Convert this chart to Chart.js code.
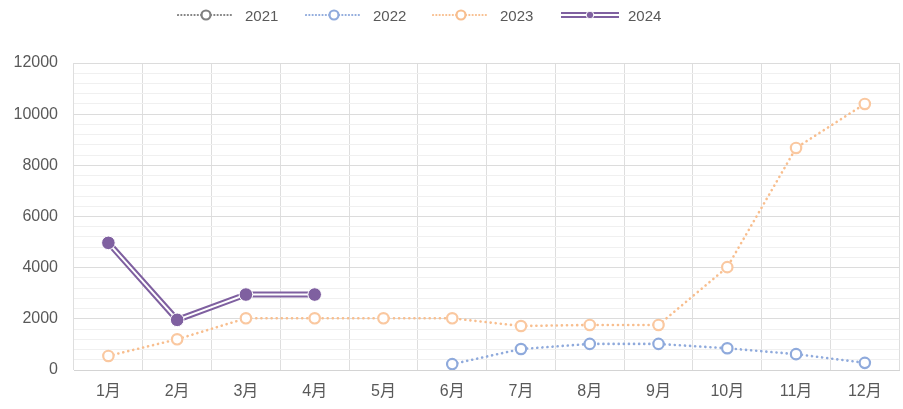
<!DOCTYPE html>
<html>
<head>
<meta charset="utf-8">
<script src="https://cdn.jsdelivr.net/npm/chart.js@4/dist/chart.umd.min.js"></script>
<style>
  html, body { margin: 0; padding: 0; background: #fff; overflow: hidden; }
  #wrap { position: relative; width: 903px; height: 409px; overflow: hidden; }
  #chart { display: block; }
  #legend { position: absolute; top: 0; left: 0; width: 903px; height: 30px; font: 15px 'Liberation Sans', 'Noto Sans CJK SC', sans-serif; color: #595959; }
  .item { position: absolute; top: 5px; height: 20px; display: flex; align-items: center; }
  .item svg { margin-right: 8px; }
</style>
</head>
<body>
<div id="wrap">
  <!-- 4px wider than the window: chart.js keeps ~8px right of the plot for the last marker -->
  <canvas id="chart" width="907" height="409"></canvas>
  <div id="legend"></div>
</div>
<script>
// categories and series
const months = ['1月', '2月', '3月', '4月', '5月', '6月', '7月', '8月', '9月', '10月', '11月', '12月'];
const years = ['2021', '2022', '2023', '2024'];
const data2021 = [null, null, null, null, null, null, null, null, null, null, null, null];
const data2022 = [null, null, null, null, null, 230, 820, 1020, 1020, 850, 620, 280];
const data2023 = [550, 1200, 2020, 2020, 2020, 2020, 1720, 1760, 1760, 4020, 8680, 10400];
const data2024 = [4970, 1960, 2950, 2950, null, null, null, null, null, null, null, null];

const fontFamily = "'Liberation Sans', 'Noto Sans CJK SC', sans-serif";
const textColor = '#595959';
const purple = '#7F60A0';

// -- legend (html, drawn like the excel one) --
const legendEl = document.getElementById('legend');
const legendLeft = [177, 305, 432, 560];
const legendGlyphs = [
    '<line x1="1" y1="8" x2="57" y2="8" stroke="#7F7F7F" stroke-width="2.2" stroke-dasharray="0.1 3.2" stroke-linecap="round"/><circle cx="29" cy="8" r="4.5" fill="#fff" stroke="#7F7F7F" stroke-width="2.2"/>',
    '<line x1="1" y1="8" x2="57" y2="8" stroke="#8FAADC" stroke-width="2.2" stroke-dasharray="0.1 3.2" stroke-linecap="round"/><circle cx="29" cy="8" r="4.5" fill="#fff" stroke="#8FAADC" stroke-width="2.2"/>',
    '<line x1="1" y1="8" x2="57" y2="8" stroke="#F8BE8E" stroke-width="2.2" stroke-dasharray="0.1 3.2" stroke-linecap="round"/><circle cx="29" cy="8" r="4.5" fill="#fff" stroke="#F8BE8E" stroke-width="2.2"/>',
    '<line x1="1" y1="8" x2="59" y2="8" stroke="' + purple + '" stroke-width="6"/><line x1="1" y1="8" x2="59" y2="8" stroke="#fff" stroke-width="1.8"/><circle cx="30" cy="8" r="3.8" fill="' + purple + '" stroke="#fff" stroke-width="1"/>'
];
for (let i = 0; i < years.length; i++) {
    let div = document.createElement('div');
    div.className = 'item';
    div.style.left = legendLeft[i] + 'px';
    div.innerHTML = '<svg width="60" height="16">' + legendGlyphs[i] + '</svg><span>' + years[i] + '</span>';
    legendEl.appendChild(div);
}

// -- chart --
const ctx = document.getElementById('chart');

new Chart(ctx, {
    type: 'line',
    data: {
        labels: months,
        datasets: [
            {
                // 2024 markers on top
                label: '2024',
                data: data2024,
                showLine: false,
                pointRadius: 6.8,
                pointBackgroundColor: purple,
                pointBorderColor: '#fff',
                pointBorderWidth: 1
            },
            {
                // white core of the double line
                label: '2024 core',
                data: data2024,
                borderColor: '#fff',
                borderWidth: 2,
                pointRadius: 0,
                tension: 0
            },
            {
                label: '2024 line',
                data: data2024,
                borderColor: purple,
                borderWidth: 6,
                pointRadius: 0,
                tension: 0
            },
            {
                label: '2023',
                data: data2023,
                borderColor: '#F8BE8E',
                borderWidth: 2.6,
                borderDash: [0.1, 5],
                borderCapStyle: 'round',
                pointRadius: 5.2,
                pointBackgroundColor: '#fff',
                pointBorderColor: '#FAC8A0',
                pointBorderWidth: 2.2,
                tension: 0
            },
            {
                label: '2022',
                data: data2022,
                borderColor: '#8FAADC',
                borderWidth: 2.6,
                borderDash: [0.1, 5],
                borderCapStyle: 'round',
                pointRadius: 5.2,
                pointBackgroundColor: '#fff',
                pointBorderColor: '#8FAADC',
                pointBorderWidth: 2.2,
                tension: 0
            },
            {
                label: '2021',
                data: data2021,
                borderColor: '#7F7F7F',
                borderWidth: 2,
                pointRadius: 5,
                pointBackgroundColor: '#fff',
                pointBorderColor: '#7F7F7F'
            }
        ]
    },
    options: {
        responsive: false,
        animation: false,
        layout: {
            padding: { top: 63, right: 0, bottom: 0, left: 0 }
        },
        plugins: {
            legend: { display: false },
            tooltip: { enabled: false }
        },
        scales: {
            x: {
                offset: true,
                grid: {
                    offset: true,
                    color: '#DEDEDE',
                    drawTicks: false
                },
                border: { color: '#D4D4D4' },
                ticks: {
                    color: textColor,
                    font: { family: fontFamily, size: 16 },
                    padding: 12,
                    maxRotation: 0
                },
                afterFit: function (scale) { scale.height = 39; }
            },
            y: {
                min: 0,
                max: 12000,
                grid: {
                    drawTicks: false,
                    color: function (c) {
                        return c.tick.value % 2000 === 0 ? '#DCDCDC' : '#F0F0F0';
                    }
                },
                border: { display: false },
                ticks: {
                    stepSize: 400,
                    autoSkip: false,
                    color: textColor,
                    font: { family: fontFamily, size: 16 },
                    padding: 16,
                    callback: function (v) { return v % 2000 === 0 ? v : ''; }
                },
                afterFit: function (scale) { scale.width = 74; }
            }
        }
    }
});
</script>
</body>
</html>
